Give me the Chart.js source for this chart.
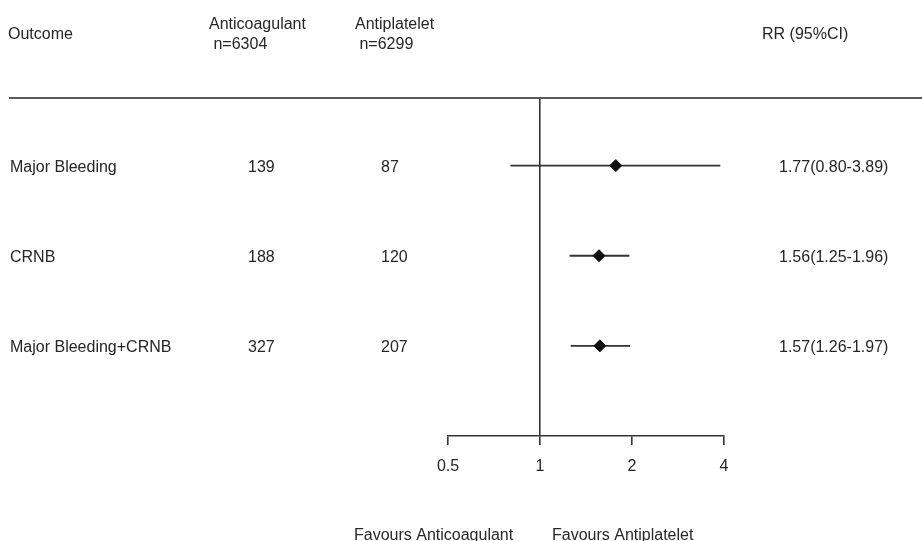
<!DOCTYPE html>
<html>
<head>
<meta charset="utf-8">
<script src="https://cdn.jsdelivr.net/npm/chart.js@4/dist/chart.umd.min.js"></script>
<style>
  html, body { margin: 0; padding: 0; background: #ffffff; }
  #wrap { width: 922px; height: 541px; position: relative; }
</style>
</head>
<body>
<div id="wrap"><canvas id="forest" width="922" height="541"></canvas></div>
<script>
// Outcomes and event counts per arm
const outcomes = ['Major Bleeding', 'CRNB', 'Major Bleeding+CRNB'];
const anticoagulantEvents = [139, 188, 327];
const antiplateletEvents = [87, 120, 207];

// Relative risk with 95% confidence interval
const rr = [1.77, 1.56, 1.57];
const ciLow = [0.80, 1.25, 1.26];
const ciHigh = [3.89, 1.96, 1.97];

// Row positions on the vertical scale (top row first)
const rowPos = [3, 2, 1];

// Axis ticks
const xTicks = [0.5, 1, 2, 4];

// Column headers
const headOutcome = 'Outcome';
const headAnticoag = ['Anticoagulant', ' n=6304'];
const headAntiplat = ['Antiplatelet', ' n=6299'];
const headRR = 'RR (95%CI)';
const favourLeft = 'Favours Anticoagulant';
const favourRight = 'Favours Antiplatelet';

const FONT = '16px "Liberation Sans", Arial, sans-serif';
const TEXT = '#262626';

const fmt = v => v.toFixed(2);

// Diamonds for the point estimates
const pointData = rr.map((v, i) => ({ x: v, y: rowPos[i] }));

// One segment per confidence interval
const ciDatasets = rr.map((_, i) => ({
  type: 'line',
  data: [{ x: ciLow[i], y: rowPos[i] }, { x: ciHigh[i], y: rowPos[i] }],
  borderColor: '#333333',
  borderWidth: 1.8,
  pointRadius: 0,
  fill: false
}));

// Table text, header rule and "favours" captions
const tablePlugin = {
  id: 'forestTable',
  afterDraw(chart) {
    const ctx = chart.ctx;
    const y = chart.scales.y;
    ctx.save();
    ctx.font = FONT;
    ctx.fillStyle = TEXT;
    ctx.textBaseline = 'alphabetic';
    ctx.textAlign = 'left';

    // headers
    ctx.fillText(headOutcome, 8, 39);
    ctx.fillText(headAnticoag[0], 209, 29);
    ctx.fillText(headAnticoag[1], 209, 49);
    ctx.fillText(headAntiplat[0], 355, 29);
    ctx.fillText(headAntiplat[1], 355, 49);
    ctx.fillText(headRR, 762, 39);

    // rule under the headers
    ctx.strokeStyle = '#5a5a5a';
    ctx.lineWidth = 2;
    ctx.beginPath();
    ctx.moveTo(9, 98);
    ctx.lineTo(922, 98);
    ctx.stroke();

    // rows
    outcomes.forEach((name, i) => {
      const py = y.getPixelForValue(rowPos[i]) + 6;
      ctx.fillText(name, 10, py);
      ctx.fillText(String(anticoagulantEvents[i]), 248, py);
      ctx.fillText(String(antiplateletEvents[i]), 381, py);
      ctx.fillText(fmt(rr[i]) + '(' + fmt(ciLow[i]) + '-' + fmt(ciHigh[i]) + ')', 779, py);
    });

    // captions under the axis
    ctx.fillText(favourLeft, 354, 540);
    ctx.fillText(favourRight, 552, 540);
    ctx.restore();
  }
};

new Chart(document.getElementById('forest'), {
  type: 'scatter',
  data: {
    datasets: [
      {
        type: 'scatter',
        data: pointData,
        pointStyle: 'rectRot',
        pointRadius: 6,
        pointBackgroundColor: '#111111',
        pointBorderColor: '#111111',
        pointBorderWidth: 1
      },
      ...ciDatasets
    ]
  },
  options: {
    responsive: false,
    animation: false,
    devicePixelRatio: 1,
    layout: { padding: { left: 448, right: 198, top: 98, bottom: 65 } },
    plugins: { legend: { display: false }, tooltip: { enabled: false } },
    scales: {
      x: {
        type: 'logarithmic',
        min: 0.5,
        max: 4,
        afterBuildTicks: s => { s.ticks = xTicks.map(v => ({ value: v })); },
        afterFit: s => { s.height = 40; },
        ticks: {
          autoSkip: false,
          maxRotation: 0,
          padding: 12,
          color: TEXT,
          font: { family: '"Liberation Sans", Arial, sans-serif', size: 16 },
          callback: v => String(v)
        },
        grid: {
          drawOnChartArea: true,
          drawTicks: true,
          tickLength: 9,
          tickColor: '#333333',
          lineWidth: 1.6,
          color: c => (c.tick && c.tick.value === 1 ? '#333333' : 'rgba(0,0,0,0)')
        },
        border: { display: true, color: '#333333', width: 1.6 }
      },
      y: {
        type: 'linear',
        min: 0,
        max: 3.75,
        display: false
      }
    }
  },
  plugins: [tablePlugin]
});
</script>
</body>
</html>
